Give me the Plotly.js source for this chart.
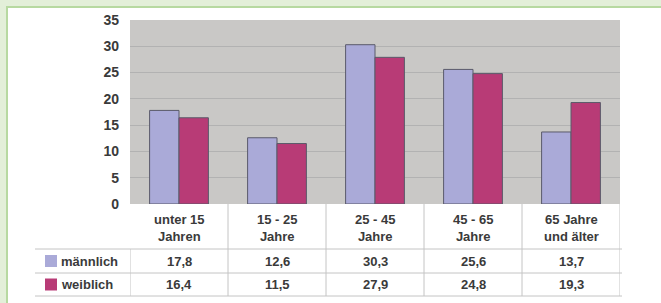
<!DOCTYPE html>
<html><head><meta charset="utf-8">
<script src="https://cdn.plot.ly/plotly-3.0.1.min.js"></script>
<style>
html,body{margin:0;padding:0;background:#e3efd9;width:661px;height:303px;overflow:hidden;}
#frame{position:absolute;left:6px;top:6px;width:655px;height:297px;border-left:2px solid #b7d9a1;border-top:2px solid #b7d9a1;background:#fff;box-sizing:border-box;}
#chart{position:absolute;left:8px;top:8px;width:653px;height:295px;}
</style></head>
<body><div id="frame"></div><div id="chart"></div>
<script>
const categories = ["unter 15<br>Jahren", "15 - 25<br>Jahre", "25 - 45<br>Jahre", "45 - 65<br>Jahre", "65 Jahre<br>und älter"];
const seriesNames = ["männlich", "weiblich"];
const maennlich = [17.8, 12.6, 30.3, 25.6, 13.7];
const weiblich = [16.4, 11.5, 27.9, 24.8, 19.3];
const valueLabels = [["17,8","12,6","30,3","25,6","13,7"],["16,4","11,5","27,9","24,8","19,3"]];
const colors = ["#aaaad8", "#b83b76"];

const W = 653, H = 295, L = 122, R = 41, T = 12, B = 99;
const ph = H - T - B, pw = W - L - R;
// convert chart pixel coords to paper
const px = x => (x - L) / pw;
const py = y => (H - B - y) / ph;

const idx = categories.map((c, i) => i);
const traces = [maennlich, weiblich].map((vals, s) => ({
  type: 'bar', x: idx, y: vals, name: seriesNames[s],
  marker: {color: colors[s], line: {color: '#5a5a6a', width: 1}},
  hoverinfo: 'skip'
}));

const font = {family: 'Liberation Sans, Arial, sans-serif', size: 13, color: '#3a3a3a', weight: 'bold'};
const lineC = '#c4c4c4';
const shapes = [];
const annotations = [];
const rowY = [H - B, 241, 265, 288];
// horizontal table lines
[rowY[1], rowY[2], rowY[3]].forEach(y => shapes.push({type:'line', xref:'paper', yref:'paper', x0: px(27), x1: px(W - R + 2), y0: py(y), y1: py(y), line:{color: lineC, width: 1}}));
// vertical column lines
for (let i = 0; i <= categories.length; i++) {
  const xv = i - 0.5;
  shapes.push({type:'line', xref:'x', yref:'paper', x0: xv, x1: xv, y0: py(i === 0 ? rowY[1] : rowY[0]), y1: py(rowY[3]), line:{color: lineC, width: 1}});
}
// category labels
categories.forEach((c, i) => annotations.push({xref:'x', yref:'paper', x: i, y: py((rowY[0] + rowY[1]) / 2 + 1), text: c, showarrow:false, font: font, yanchor:'middle'}));
// values
valueLabels.forEach((row, s) => row.forEach((v, i) => annotations.push({xref:'x', yref:'paper', x: i, y: py((rowY[s+1] + rowY[s+2]) / 2), text: v, showarrow:false, font: font, yanchor:'middle'})));
// legend rows
seriesNames.forEach((n, s) => {
  const yc = (rowY[s+1] + rowY[s+2]) / 2;
  shapes.push({type:'rect', xref:'paper', yref:'paper', x0: px(37), x1: px(49), y0: py(yc - 6), y1: py(yc + 6), fillcolor: colors[s], line:{width:0}});
  annotations.push({xref:'paper', yref:'paper', x: px(51), y: py(yc), text: n, showarrow:false, font: font, xanchor:'left', yanchor:'middle'});
});

const layout = {
  width: W, height: H,
  margin: {l: L, r: R, t: T, b: B},
  paper_bgcolor: 'rgba(0,0,0,0)', plot_bgcolor: '#c9c8c6',
  showlegend: false, bargap: 0.4, bargroupgap: 0,
  xaxis: {range: [-0.5, 4.5], showticklabels: false, showgrid: false, zeroline: false, ticks: '', fixedrange: true},
  yaxis: {range: [0, 35], dtick: 5, gridcolor: '#b2b2b2', gridwidth: 1, zeroline: false, ticks: '', ticklabelstandoff: 10,
          tickfont: {family: 'Liberation Sans, Arial, sans-serif', size: 14, color: '#3a3a3a', weight: 'bold'}, fixedrange: true},
  shapes: shapes, annotations: annotations
};
Plotly.newPlot('chart', traces, layout, {staticPlot: true, displayModeBar: false});
</script></body></html>
